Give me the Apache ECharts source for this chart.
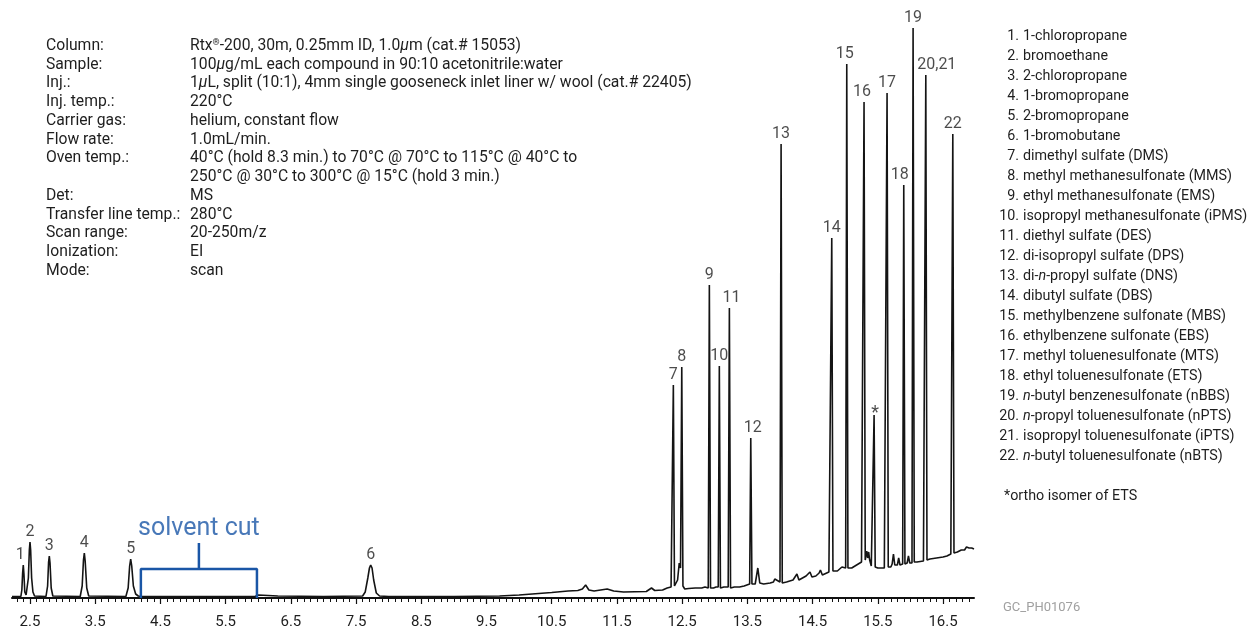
<!DOCTYPE html>
<html>
<head>
<meta charset="utf-8">
<script src="https://cdn.jsdelivr.net/npm/echarts@6.0.0/dist/echarts.min.js"></script>
<style>
html,body{margin:0;padding:0;background:#fff;}
#chart{width:1260px;height:627px;}
</style>
</head>
<body>
<div id="chart"></div>
<script>
// ---------------- DATA ----------------
// chromatogram trace: [retention time (min), detector signal]
const trace = [
  [2.224,1.5],[2.36,1.5],[2.375,8],[2.387,25],[2.397,33],[2.407,24],[2.42,6],[2.44,3],
  [2.46,4],[2.475,20],[2.49,48],[2.50,56],[2.51,48],[2.525,20],[2.545,6],[2.57,2],
  [2.745,1.5],[2.77,12],[2.785,36],[2.796,42],[2.807,35],[2.825,10],[2.85,2],
  [3.27,1.5],[3.30,12],[3.32,38],[3.333,45],[3.346,37],[3.37,10],[3.40,2],
  [3.97,1.5],[4.005,10],[4.028,32],[4.044,39],[4.06,32],[4.085,12],[4.12,4],[4.16,2],
  [4.2,1.5],[5.95,1.5],[6.0,3],[6.15,2.5],[6.3,2],[7.0,1.5],
  [7.6,2],[7.64,6],[7.68,20],[7.705,30],[7.724,33],[7.745,30],[7.77,18],[7.81,5],[7.86,2],
  [8.0,1.5],[9.0,1.5],[9.7,2],[10.0,3],[10.2,4],[10.5,5.5],[10.75,7],[10.9,7.5],
  [10.97,9],[11.02,13],[11.07,8],[11.15,7],[11.35,9],[11.45,7],[11.6,6],[11.95,6.5],
  [12.03,10],[12.08,7.5],[12.2,8],[12.27,10],[12.33,11],
  [12.348,11],[12.365,213],[12.382,12],[12.43,18],[12.455,35],[12.475,30],
  [12.494,231],[12.512,12],[12.54,9],[12.6,9.5],[12.7,10],[12.8,10],[12.85,11],[12.9,10],
  [12.917,313],[12.935,10],[12.98,10],[13.02,11],[13.053,11],
  [13.07,232],[13.087,10],[13.14,11],[13.206,11],
  [13.224,290],[13.242,10],[13.3,11],[13.38,11],[13.45,12],[13.535,14],
  [13.552,160],[13.57,14],[13.62,14],[13.66,30],[13.69,15],[13.75,14],[13.85,15],
  [13.9,16],[13.92,19],[13.95,17],[14.0,16],
  [14.017,454],[14.035,15],[14.1,16],[14.2,18],[14.26,24],[14.29,18],[14.4,22],
  [14.46,26],[14.49,21],[14.55,22],[14.6,25],[14.62,28],[14.65,23],[14.75,26],[14.777,27],
  [14.794,360],[14.812,27],[14.88,27],[14.95,31],[14.98,29],[15.007,30],
  [15.024,534],[15.042,30],[15.1,30],[15.2,34],[15.25,36],[15.272,37],
  [15.289,496],[15.307,38],[15.33,47],[15.345,40],[15.36,46],[15.375,38],[15.4,32],[15.426,31],
  [15.443,183],[15.46,31],[15.5,30],[15.6,30],[15.625,31],
  [15.642,505],[15.66,31],[15.7,31],[15.72,34],[15.74,44],[15.76,33],[15.8,33],
  [15.82,40],[15.84,33],[15.881,34],
  [15.898,413],[15.916,34],[15.95,35],[15.97,42],[15.99,35],[16.024,35],
  [16.041,570],[16.059,36],[16.1,36],[16.2,37],[16.219,38],
  [16.236,523],[16.254,38],[16.3,39],[16.4,40],[16.5,41],[16.56,42],[16.62,44],[16.633,44],
  [16.65,464],[16.668,45],[16.72,46],[16.78,48],[16.83,48],[16.86,51],[16.9,50],[16.94,50],[16.975,49]
];

// peak annotations
const peakNames   = ['1','2','3','4','5','6','7','8','9','10','11','12','13','14','15','16','*','17','18','19','20,21','22'];
const peakTimes   = [2.397,2.50,2.796,3.333,4.044,7.724,12.365,12.494,12.917,13.07,13.224,13.552,14.017,14.794,15.024,15.289,15.443,15.642,15.898,16.041,16.236,16.65];
const peakHeights = [33,56,42,45,39,33,213,231,313,232,290,160,454,360,534,496,183,505,413,570,523,464];

// x-axis tick labels (minutes)
const tickLabels = ['2.5','3.5','4.5','5.5','6.5','7.5','8.5','9.5','10.5','11.5','12.5','13.5','14.5','15.5','16.5'];

// solvent cut window (min)
const solventCut = [4.20, 5.98];

// analytical conditions
const conditionLabels = ['Column:','Sample:','Inj.:','Inj. temp.:','Carrier gas:','Flow rate:','Oven temp.:','','Det:','Transfer line temp.:','Scan range:','Ionization:','Mode:'];
const conditionValues = [
  'Rtx{sup|®}-200, 30m, 0.25mm ID, 1.0{i|µ}m (cat.# 15053)',
  '100{i|µ}g/mL each compound in 90:10 acetonitrile:water',
  '1{i|µ}L, split (10:1), 4mm single gooseneck inlet liner w/ wool (cat.# 22405)',
  '220°C',
  'helium, constant flow',
  '1.0mL/min.',
  '40°C (hold 8.3 min.) to 70°C @ 70°C to 115°C @ 40°C to',
  '250°C @ 30°C to 300°C @ 15°C (hold 3 min.)',
  'MS',
  '280°C',
  '20-250m/z',
  'EI',
  'scan'
];

// peak identification
const compounds = [
  '1-chloropropane','bromoethane','2-chloropropane','1-bromopropane','2-bromopropane','1-bromobutane',
  'dimethyl sulfate (DMS)','methyl methanesulfonate (MMS)','ethyl methanesulfonate (EMS)',
  'isopropyl methanesulfonate (iPMS)','diethyl sulfate (DES)','di-isopropyl sulfate (DPS)',
  'di-{i|n}-propyl sulfate (DNS)','dibutyl sulfate (DBS)','methylbenzene sulfonate (MBS)',
  'ethylbenzene sulfonate (EBS)','methyl toluenesulfonate (MTS)','ethyl toluenesulfonate (ETS)',
  '{i|n}-butyl benzenesulfonate (nBBS)','{i|n}-propyl toluenesulfonate (nPTS)',
  'isopropyl toluenesulfonate (iPTS)','{i|n}-butyl toluenesulfonate (nBTS)'
];
const footnote = '*ortho isomer of ETS';
const solventText = 'solvent cut';
const figureId = 'GC_PH01076';

// ---------------- CHART ----------------
const FONT = 'Roboto';
const TXT = '#1e1e1e';
const BLUE = '#1a56a6';
const COND_SIZE = 15.7;
const LEG_SIZE = 14.3;

const tickValues = tickLabels.map(Number);
const minorTicks = [];
for (let k = 23; k <= 169; k++) minorTicks.push(k / 10);

const labelOffsets = {'1':[-3,0],'11':[2,0],'12':[2,0],'15':[-2,0],'16':[-2,0],'18':[-4,0],'20,21':[11,0],'*':[1,9]};

function rich(size) {
  return {
    i: {fontStyle:'italic', fontFamily:FONT, fontSize:size, fill:TXT},
    sup: {fontSize:Math.round(size*0.6), fontFamily:FONT, fill:TXT, verticalAlign:'top', padding:[0,0,6,0]}
  };
}

const graphics = [];
conditionLabels.forEach((t, i) => {
  const y = 46 + 18.75 * i;
  if (t) graphics.push({type:'text', x:46, y:y, silent:true,
    style:{text:t, font:COND_SIZE + 'px ' + FONT, fill:TXT, verticalAlign:'middle'}});
  graphics.push({type:'text', x:190, y:y, silent:true,
    style:{text:conditionValues[i], font:COND_SIZE + 'px ' + FONT, fill:TXT, verticalAlign:'middle', rich:rich(COND_SIZE)}});
});
compounds.forEach((c, i) => {
  const y = 36 + 20 * i;
  graphics.push({type:'text', x:1019, y:y, silent:true,
    style:{text:(i+1)+'.', font:LEG_SIZE + 'px ' + FONT, fill:TXT, align:'right', verticalAlign:'middle'}});
  graphics.push({type:'text', x:1023, y:y, silent:true,
    style:{text:c, font:LEG_SIZE + 'px ' + FONT, fill:TXT, align:'left', verticalAlign:'middle', rich:rich(LEG_SIZE)}});
});
graphics.push({type:'text', x:1004, y:496, silent:true,
  style:{text:footnote, font:LEG_SIZE + 'px ' + FONT, fill:TXT, verticalAlign:'middle'}});
graphics.push({type:'text', x:1003, y:608, silent:true,
  style:{text:figureId, font:'13px ' + FONT, fill:'#a0a0a0', verticalAlign:'middle'}});

const cutMid = (solventCut[0] + solventCut[1]) / 2;

const option = {
  animation: false,
  backgroundColor: '#fff',
  grid: {left:12, right:286, top:18, bottom:29, containLabel:false, outerBoundsMode:'none'},
  xAxis: [
    {
      type:'value', min:2.224, max:16.975, position:'bottom',
      axisLine:{show:true, onZero:false, lineStyle:{color:'#111', width:2}},
      axisTick:{show:true, customValues:tickValues, length:6, lineStyle:{color:'#111', width:1.2}},
      axisLabel:{show:true, customValues:tickValues, formatter:(v)=>v.toFixed(1),
        fontSize:15, fontFamily:FONT, color:TXT, margin:17},
      splitLine:{show:false}
    },
    {
      type:'value', min:2.224, max:16.975, position:'bottom',
      axisLine:{show:false, onZero:false},
      axisTick:{show:true, customValues:minorTicks, length:4, lineStyle:{color:'#111', width:1}},
      axisLabel:{show:false},
      splitLine:{show:false}
    }
  ],
  yAxis: {type:'value', min:0, max:580, show:false},
  graphic: graphics,
  series: [
    {
      type:'line', data:trace, showSymbol:false, symbol:'none',
      lineStyle:{color:'#141414', width:1.6}, z:3, silent:true
    },
    {
      type:'scatter', symbolSize:0, silent:true, z:4,
      data: peakTimes.map((t, i) => ({
        value:[t, peakHeights[i]], name:peakNames[i],
        label:{offset: labelOffsets[peakNames[i]] || [0,0], fontSize: peakNames[i] === '*' ? 18 : 16}
      })),
      label:{show:true, position:'top', distance:2, formatter:'{b}',
        fontSize:16, fontFamily:FONT, color:TXT}
    },
    {
      type:'line', silent:true, showSymbol:false, symbol:'none', z:5,
      data:[[solventCut[0],0],[solventCut[0],29],[solventCut[1],29],[solventCut[1],0]],
      lineStyle:{color:BLUE, width:2.5}
    },
    {
      type:'line', silent:true, showSymbol:false, symbol:'none', z:5,
      data:[[cutMid,29],[cutMid,55]],
      lineStyle:{color:BLUE, width:2.5}
    },
    {
      type:'scatter', symbolSize:0, silent:true, z:5,
      data:[{value:[cutMid,55], name:solventText}],
      label:{show:true, position:'top', distance:2, formatter:'{b}',
        fontSize:25, fontFamily:FONT, color:BLUE}
    }
  ]
};

const chart = echarts.init(document.getElementById('chart'), null, {renderer:'canvas'});
chart.setOption(option);
</script>
</body>
</html>
